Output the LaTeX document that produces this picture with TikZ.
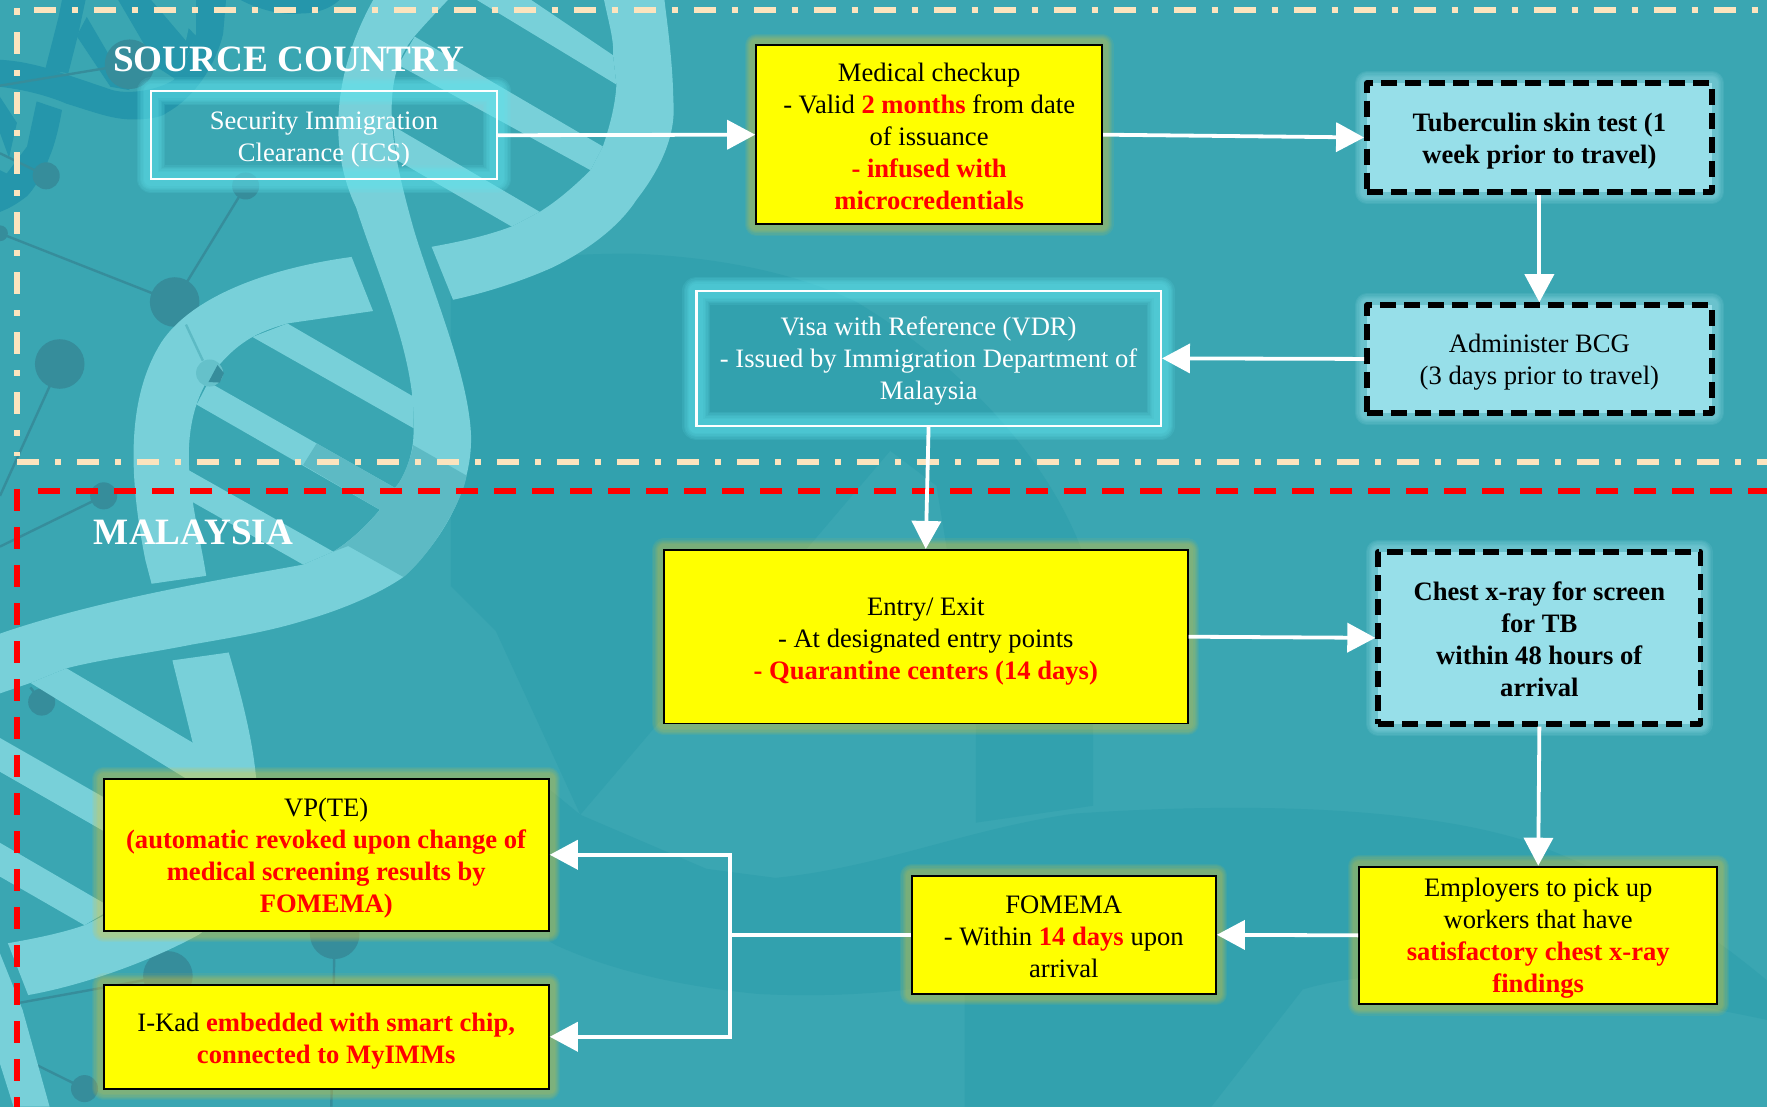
\documentclass[tikz,border=0pt]{standalone}
\usepackage{fontspec}
\setmainfont{Liberation Serif}
\usetikzlibrary{arrows.meta}
\definecolor{bgbase}{HTML}{3AA6B2}
\definecolor{bgdark}{HTML}{32A1AE}
\definecolor{dnalight}{HTML}{78D0D9}
\definecolor{dnaover}{HTML}{5DBAC4}
\definecolor{dnadark}{HTML}{2596AB}
\definecolor{molec}{HTML}{368D9B}
\definecolor{beigeline}{HTML}{FCE4BE}
\definecolor{paleblue}{HTML}{97DFE9}
\definecolor{glowcyan}{HTML}{62E6F0}
\definecolor{boxyellow}{RGB}{255,255,0}
\definecolor{glowyellow}{HTML}{FFCC20}
\definecolor{purered}{RGB}{255,0,0}
\newcommand{\rb}[1]{\textcolor{purered}{\textbf{#1}}}
\newcommand{\dr}[1]{\rule{0pt}{#1pt}}
\tikzset{
  gl/.style n args={3}{preaction={draw=#1,solid,draw opacity=#3,line width=#2,line join=round}},
  softglow/.style n args={3}{
    gl={#1}{#2*1.00pt}{#3},gl={#1}{#2*0.90pt}{#3},gl={#1}{#2*0.80pt}{#3},
    gl={#1}{#2*0.70pt}{#3},gl={#1}{#2*0.60pt}{#3},gl={#1}{#2*0.50pt}{#3}},
  txt/.style={align=center,inner sep=0pt,font=\fontsize{13.3}{16}\selectfont},
  yellowbox/.style={txt,rectangle,softglow={glowyellow}{11.5}{.07},fill=boxyellow,draw=black,line width=0.95pt,text=black},
  dashbox/.style={txt,rectangle,softglow={paleblue}{12}{.12},fill=paleblue,draw=black,line width=2.9pt,dash pattern=on 8pt off 4pt,line join=round,text=black},
  glowbox/.style={txt,rectangle,softglow={glowcyan}{14}{.13},draw=white,line width=1.2pt,text=white},
  heading/.style={anchor=west,inner sep=0pt,text=white,font=\fontsize{18.6}{22}\selectfont\bfseries},
  flow/.style={draw=white,line width=1.9pt,-{Triangle[length=14pt,width=14.5pt]}},
  flowplain/.style={draw=white,line width=1.9pt},
  beigedash/.style={draw=beigeline,line width=3pt,dash pattern=on 11pt off 8pt on 3pt off 8pt},
  reddash/.style={draw=purered,line width=3pt,dash pattern=on 11pt off 8pt},
  molecule/.style={draw=molec,line width=1.2pt},
}
\begin{document}
\begin{tikzpicture}[x=0.5635pt,y=-0.5635pt]
\useasboundingbox (0,0) rectangle (1568,982);
\begin{scope}
\clip (0,0) rectangle (1568,982);
\fill[bgbase] (0,0) rectangle (1568,982);
% faint background swooshes
\fill[bgdark] (400,240) .. controls (450,228) and (520,225) .. (560,225) .. controls (640,228) and (708,243) .. (760,268) .. controls (860,328) and (945,420) .. (970,520) -- (970,715) -- (866,730) -- (866,645) -- (831,431) -- (790,400) -- (515,723) -- (440,560) -- (400,520) -- cycle;
\fill[bgdark] (487,700) -- (515,723) -- (627,771) -- (688,779) .. controls (780,770) and (860,735) .. (953,722) .. controls (1100,712) and (1250,715) .. (1350,745) .. controls (1450,780) and (1520,830) .. (1568,870) -- (1568,905) .. controls (1400,870) and (1250,850) .. (1156,878) -- (1075,982) -- (856,982) -- (856,870) .. controls (800,882) and (730,885) .. (673,882) .. controls (600,875) and (540,860) .. (494,839) -- (487,835) -- cycle;
% dark helix, top left
\fill[dnadark] (0,77) .. controls (25,80) and (45,86) .. (59,92) .. controls (85,100) and (100,106) .. (118,106) .. controls (135,106) and (145,103) .. (148,100) .. controls (175,85) and (192,55) .. (198,30) -- (201,-5) -- (174,-5) -- (174,30) .. controls (168,50) and (160,65) .. (154,71) .. controls (140,80) and (115,84) .. (100,80) .. controls (85,75) and (65,68) .. (40,60) .. controls (25,56) and (15,54) .. (0,53) -- cycle;
\fill[dnadark] (40,62) -- (52,15) -- (56,-5) -- (77,-5) -- (69.5,30) -- (60.6,65) -- cycle;
\fill[dnadark] (68,32) -- (98,77) -- (115,80) -- (77,15) -- cycle;
\fill[dnadark] (102,-5) -- (140,60) -- (157,71) -- (174,32) -- (139,-5) -- cycle;
\fill[bgbase] (130,-5) -- (165,36) -- (174,-5) -- cycle;
\fill[dnadark] (205,-5) .. controls (225,8) and (250,14) .. (266,12) .. controls (285,12) and (298,5) .. (306,-5) -- cycle;
\fill[dnadark] (32.5,90) -- (55,97.6) .. controls (52,115) and (48,130) .. (44,139) .. controls (38,155) and (30,168) .. (24,174) .. controls (15,181) and (8,185) .. (0,188) -- (0,151) -- (6,154) -- (24,130) -- cycle;
\fill[dnadark] (0,86) -- (15,109) -- (8,140) -- (0,118) -- cycle;
% molecules
\foreach \xa/\ya/\xb/\yb in {0/76/115/57,0/136/41/156,218/165/155/268,0/207/155/268,155/268/186/331,53/323/0/440,0/485/92/440,297/829/294/982,0/893/149/866,0/929/75/966,27/610/37/623}
  \draw[molecule] (\xa,\ya) -- (\xb,\yb);
\foreach \cx/\cy/\r in {115/57/22,41/156/12,218/165/12,0/207/7,155/268/22,53/323/22,186/331/12,92/440/12,37/623/12,297/829/22,149/866/22,75/966/12}
  \fill[molec] (\cx,\cy) circle[radius=\r];
% helix
\begin{scope}[fill=dnalight]
\fill (334,-5) .. controls (296,60) and (290,130) .. (316,184) .. controls (336,247) and (370,317) .. (367,383) .. controls (367,405) and (358,425) .. (350.5,433) .. controls (345,445) and (320,475) .. (295.7,489.5) -- (269,501) .. controls (204,513) and (85,532) .. (-5,564) -- (-5,617) -- (27,606) -- (59,593) .. controls (90,585) and (130,580) .. (170,572) .. controls (210,565) and (240,560) .. (272,550) .. controls (300,542) and (335,528) .. (358,512) .. controls (390,482) and (419,437) .. (418,387) .. controls (416,333) and (384,260) .. (367,203) .. controls (350,142) and (333,73) .. (368,32) .. controls (380,18) and (392,6) .. (402,-5) -- cycle;
\fill (312,228) .. controls (238,238) and (170,263) .. (143,304) .. controls (115,349) and (112,412) .. (129,497) -- (134.5,518) -- (183,511) .. controls (178,479) and (170,450) .. (168,418) .. controls (166,390) and (170,360) .. (185,336) .. controls (198,318) and (210,307) .. (224,299) .. controls (235,293) and (245,290) .. (255,287) -- (331,276) -- cycle;
\fill (402,266) .. controls (430,260) and (462,250) .. (491,237) .. controls (525,220) and (550,200) .. (565,177) .. controls (590,145) and (600,115) .. (597.5,89) .. controls (597,55) and (592,20) .. (589,-5) -- (535,-5) .. controls (540,20) and (545,35) .. (544,49) -- (547,75) .. controls (546,95) and (540,115) .. (535,130) -- (524,151) .. controls (510,165) and (495,178) .. (479,188) -- (454,201) .. controls (430,210) and (405,215) .. (383,219) -- cycle;
\fill (464,-5) -- (544,49) -- (547,75) -- (415,-5) -- cycle;
\fill (368,32.5) -- (535,130) -- (524,151) -- (353.5,57.7) -- cycle;
\fill (349,112) -- (479,188) -- (454,201) -- (352,142) -- cycle;
\fill (255,287) -- (367,352) -- (367,380) -- (224,299) -- cycle;
\fill (185,339) -- (350.5,433) -- (340,454) -- (174.5,359) -- cycle;
\fill (167,417) -- (295.7,489.5) -- (269,501) -- (170,445) -- cycle;
\fill (59,593) -- (171,659) -- (200,700) -- (180,700) -- (27,606) -- cycle;
\fill (153,586) -- (203,579) .. controls (218,630) and (230,680) .. (228,720) .. controls (225,770) and (190,820) .. (177,829) .. controls (130,855) and (70,875) .. (25,883) -- (7,837) .. controls (30,833) and (55,828) .. (75,821) .. controls (120,800) and (180,760) .. (180,710) .. controls (180,690) and (172,660) .. (171,659) -- cycle;
\fill (-5,652) -- (100,712) -- (100,742) -- (-5,682) -- cycle;
\fill (-5,745) -- (100,806) -- (75,821) -- (-5,775) -- cycle;
\fill (-5,846) -- (0,846) -- (20,896) -- (44,982) -- (12,982) -- (0,944) -- cycle;
\end{scope}
% overlap of the strands
\fill[dnaover] (281,393.4) -- (350.5,433) -- (340,454) -- (269,412.6) -- cycle;
\fill[dnaover] (366.7,395) -- (414,422) .. controls (412,440) and (385,490) .. (358,512) -- (309,484.5) -- (295.7,489.5) .. controls (320,475) and (345,445) .. (350.5,433) .. controls (358,425) and (365,405) .. cycle;
\fill[dnaover!70!dnalight] (186,331) circle[radius=12];
\fill[molec] (185,339) -- (193,324) -- (198.7,331) -- (195,339.5) -- cycle;
\draw[dnaover,line width=1.2pt] (165,288) -- (180,320);
\end{scope}
% region borders
\draw[beigedash] (30,9) -- (1568,9);
\draw[beigedash] (15,28.5) -- (15,405);
\draw[beigedash] (15,410) -- (1568,410);
\draw[draw=beigeline,line width=3pt] (15,7) -- (15,13);
\draw[reddash] (34,436) -- (1568,436);
\draw[reddash] (15,434) -- (15,982);
% headings
\node[heading] (srcTitle) at (100,53) {SOURCE COUNTRY};
\node[heading] (myTitle) at (83,472) {MALAYSIA};
% boxes
\node[glowbox,minimum width=173pt,minimum height=44pt] (ics) at (287.5,120) {\dr{13.5}Security Immigration\\Clearance (ICS)};
\node[yellowbox,minimum width=173pt,minimum height=89.6pt] (med) at (824.5,119.5) {\dr{11.3}Medical checkup\\- Valid \rb{2 months} from date\\of issuance\\\rb{- infused with}\\\rb{microcredentials}};
\node[dashbox,minimum width=172.4pt,minimum height=54.4pt] (tub) at (1366,122) {\dr{12.4}\textbf{Tuberculin skin test (1}\\\textbf{week prior to travel)}};
\node[dashbox,minimum width=172.4pt,minimum height=53.8pt] (bcg) at (1366,318.5) {\dr{12.4}Administer BCG\\(3 days prior to travel)};
\node[glowbox,minimum width=232.2pt,minimum height=67.6pt] (vdr) at (824,318) {\dr{12.4}Visa with Reference (VDR)\\- Issued by Immigration Department of\\Malaysia};
\node[yellowbox,minimum width=262pt,minimum height=86.8pt] (entry) at (821.5,565) {\dr{13.5}Entry/ Exit\\- At designated entry points\\\rb{- Quarantine centers (14 days)}};
\node[dashbox,minimum width=161.2pt,minimum height=85.9pt] (chest) at (1366,566) {\dr{10.4}\textbf{Chest x-ray for screen}\\\textbf{for TB}\\\textbf{within 48 hours of}\\\textbf{arrival}};
\node[yellowbox,minimum width=179.2pt,minimum height=68.7pt] (emp) at (1365,830) {\dr{12.4}Employers to pick up\\workers that have\\\rb{satisfactory chest x-ray}\\\rb{findings}};
\node[yellowbox,minimum width=152.1pt,minimum height=59.2pt] (fom) at (944,829.5) {\dr{11.3}FOMEMA\\- Within \rb{14 days} upon\\arrival};
\node[yellowbox,minimum width=222.6pt,minimum height=76.1pt] (vp) at (289.5,758.5) {\dr{12.4}VP(TE)\\\rb{(automatic revoked upon change of}\\\rb{medical screening results by}\\\rb{FOMEMA)}};
\node[yellowbox,minimum width=222.6pt,minimum height=51.8pt] (ikad) at (289.5,920) {\dr{13.5}I-Kad \rb{embedded with smart chip,}\\\rb{connected to MyIMMs}};
% connectors
\coordinate (jn) at (648,829.5);
\draw[flow] (ics.east) -- (med.west);
\draw[flow] (med.east) -- (tub.west);
\draw[flow] (tub.south) -- (bcg.north);
\draw[flow] (bcg.west) -- (vdr.east);
\draw[flow] (vdr.south) -- (entry.north);
\draw[flow] (entry.east) -- (chest.west);
\draw[flow] (chest.south) -- (emp.north);
\draw[flow] (emp.west) -- (fom.east);
\draw[flowplain] (fom.west) -- (jn);
\draw[flow] (jn) |- (vp.east);
\draw[flow] (jn) |- (ikad.east);
\end{tikzpicture}
\end{document}
